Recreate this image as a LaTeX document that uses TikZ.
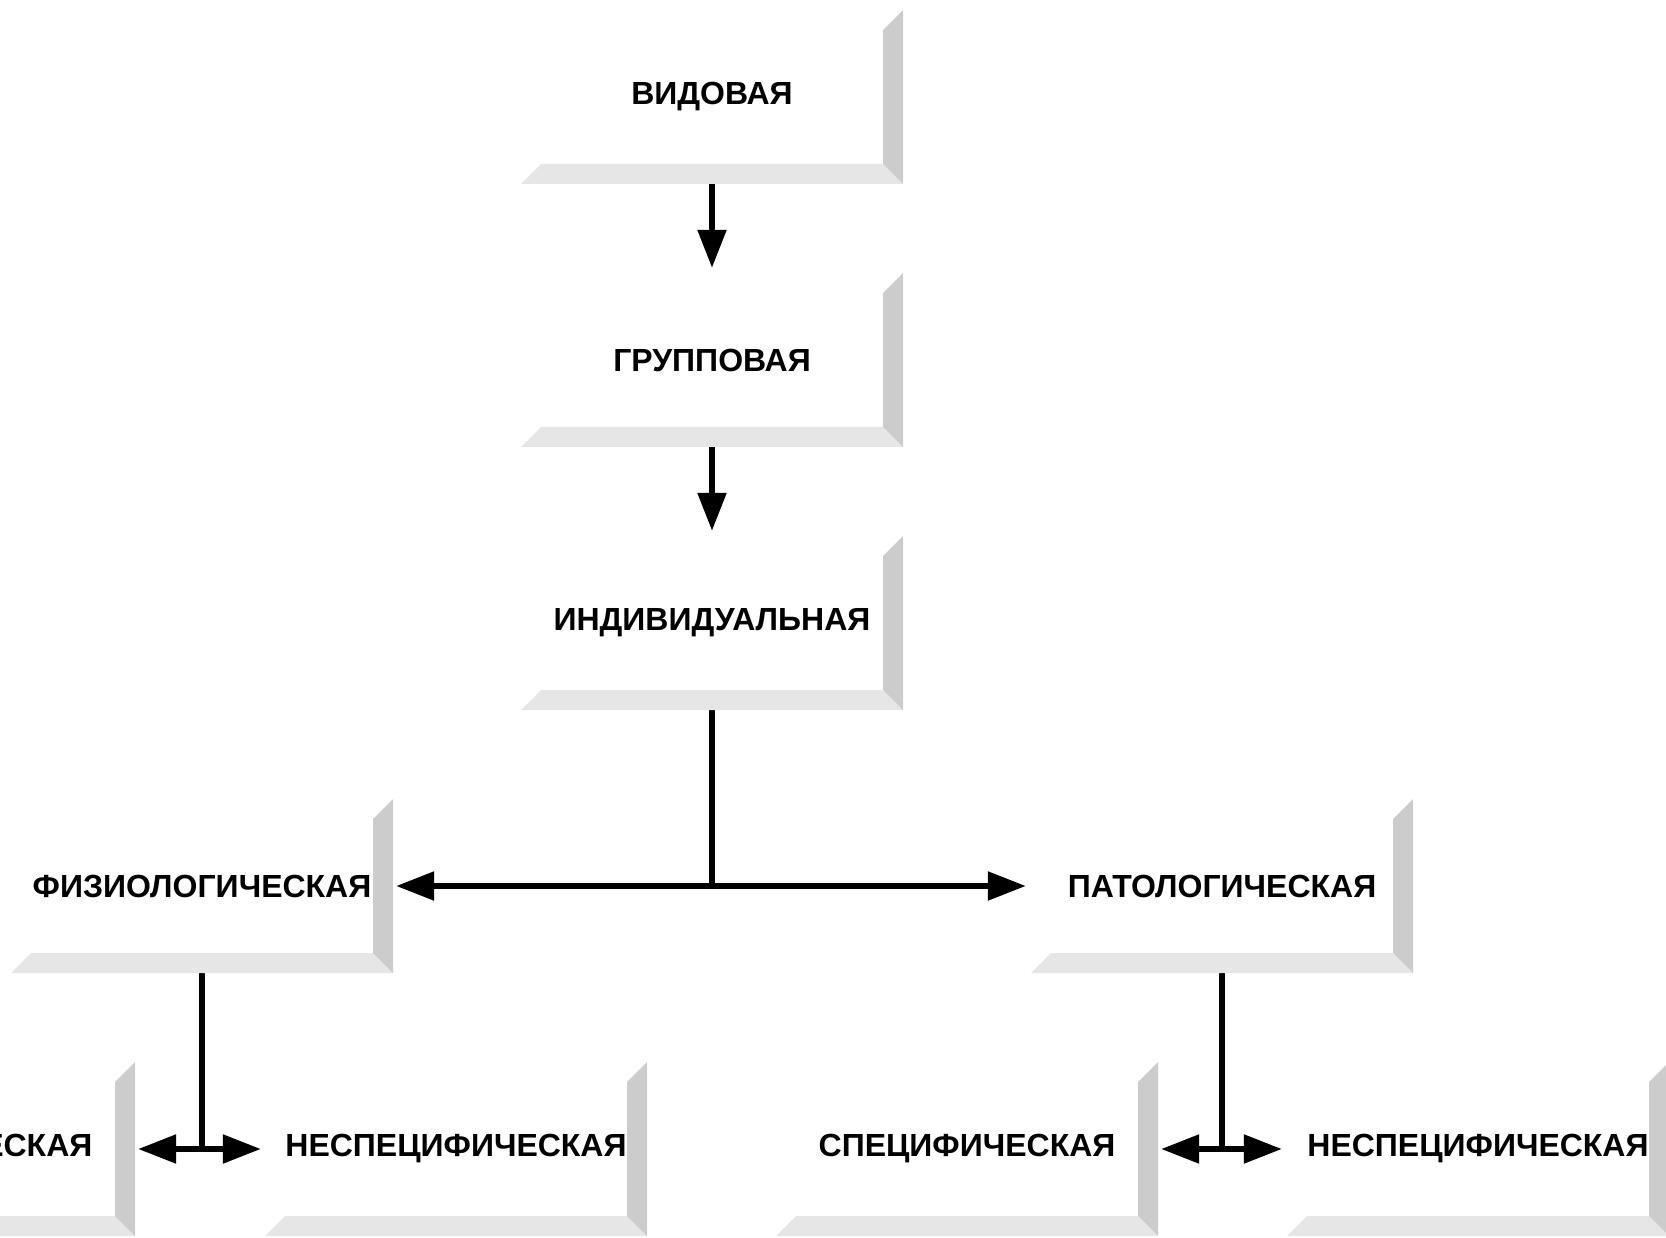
\documentclass[tikz,border=0pt]{standalone}
\usepackage{fontspec}
\setmainfont{Liberation Sans}
\usepackage{tikz}
\usetikzlibrary{arrows.meta}
\pgfdeclarelayer{edgelayer}
\pgfdeclarelayer{nodelayer}
\pgfsetlayers{edgelayer,nodelayer,main}
\definecolor{bevelside}{RGB}{204,204,204}
\definecolor{bevelbottom}{RGB}{230,230,230}
\tikzstyle{level}=[rectangle,inner sep=0pt,minimum width=382pt,minimum height=174pt,
	font=\fontsize{32}{38}\selectfont\bfseries,
	path picture={
		\fill[bevelbottom] (path picture bounding box.south west) -- (path picture bounding box.south east)
			-- ([xshift=-20pt,yshift=20pt]path picture bounding box.south east)
			-- ([xshift=20pt,yshift=20pt]path picture bounding box.south west) -- cycle;
		\fill[bevelside] (path picture bounding box.north east) -- (path picture bounding box.south east)
			-- ([xshift=-20pt,yshift=20pt]path picture bounding box.south east)
			-- ([xshift=-20pt,yshift=-20pt]path picture bounding box.north east) -- cycle;
	}]
\tikzstyle{link}=[line width=5.5pt,draw=black]
\tikzstyle{transition}=[-{Triangle[length=38pt,width=28pt]},line width=5.5pt,draw=black]

\begin{document}
\begin{tikzpicture}[x=1pt,y=-1pt]
	\useasboundingbox (0,0) rectangle (1666,1238);
	\begin{pgfonlayer}{nodelayer}
		\node [style=level] (0) at (712, 97) {ВИДОВАЯ};
		\node [style=level] (1) at (712, 360) {ГРУППОВАЯ};
		\node [style=level] (2) at (712, 623) {ИНДИВИДУАЛЬНАЯ};
		\node [style=level] (3) at (202, 886) {ФИЗИОЛОГИЧЕСКАЯ};
		\node [style=level] (4) at (1222, 886) {ПАТОЛОГИЧЕСКАЯ};
		\node [style=level] (5) at (-56, 1149) {СПЕЦИФИЧЕСКАЯ};
		\node [style=level] (6) at (456, 1149) {НЕСПЕЦИФИЧЕСКАЯ};
		\node [style=level] (7) at (967, 1149) {СПЕЦИФИЧЕСКАЯ};
		\node [style=level] (8) at (1478, 1149) {НЕСПЕЦИФИЧЕСКАЯ};
		\coordinate (9) at (712, 886);
		\coordinate (10) at (202, 1149);
		\coordinate (11) at (1222, 1149);
	\end{pgfonlayer}
	\begin{pgfonlayer}{edgelayer}
		\draw [style=transition, shorten >=5pt] (0) to (1);
		\draw [style=transition, shorten >=5pt] (1) to (2);
		\draw [style=link] (2.south) to (9);
		\draw [style=transition, shorten >=3pt] (9) to (3.east);
		\draw [style=transition, shorten >=5pt] (9) to (4.west);
		\draw [style=link] (3.south) to (10);
		\draw [style=transition, shorten >=3pt] (10) to (5.east);
		\draw [style=transition, shorten >=4pt] (10) to (6.west);
		\draw [style=link] (4.south) to (11);
		\draw [style=transition, shorten >=3pt] (11) to (7.east);
		\draw [style=transition, shorten >=5pt] (11) to (8.west);
	\end{pgfonlayer}
\end{tikzpicture}
\end{document}
